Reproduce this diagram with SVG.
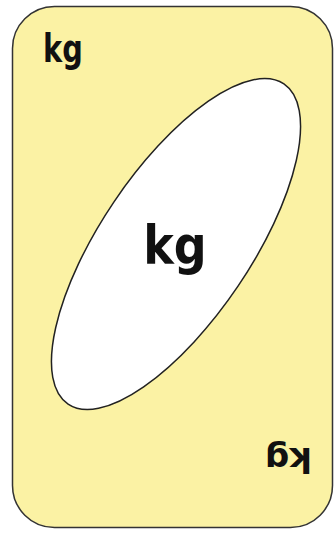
<svg xmlns="http://www.w3.org/2000/svg" width="335" height="535" viewBox="0 0 335 535">
<style>
.lbl{font-family:"DejaVu Sans",sans-serif;font-weight:bold;fill:#111;}
</style>
<rect width="335" height="535" fill="#ffffff"/>
<g id="card">
<rect x="12.5" y="6.5" width="320" height="521" rx="42" ry="42" fill="#fbf2a4" stroke="#333" stroke-width="1.5"/>
</g>
<g id="oval">
<ellipse cx="176" cy="244" rx="193" ry="75" transform="rotate(-56 176 244)" fill="#ffffff" stroke="#222" stroke-width="1.5"/>
</g>
<g id="labels">
<text class="lbl" font-size="36" transform="translate(43 62) scale(0.8 1.1)">kg</text>
<text class="lbl" font-size="46" text-anchor="middle" transform="translate(175 264) scale(1 1.15)">kg</text>
<text class="lbl" font-size="34" text-anchor="middle" transform="translate(288.5 447.5) rotate(180)">kg</text>
</g>
</svg>
